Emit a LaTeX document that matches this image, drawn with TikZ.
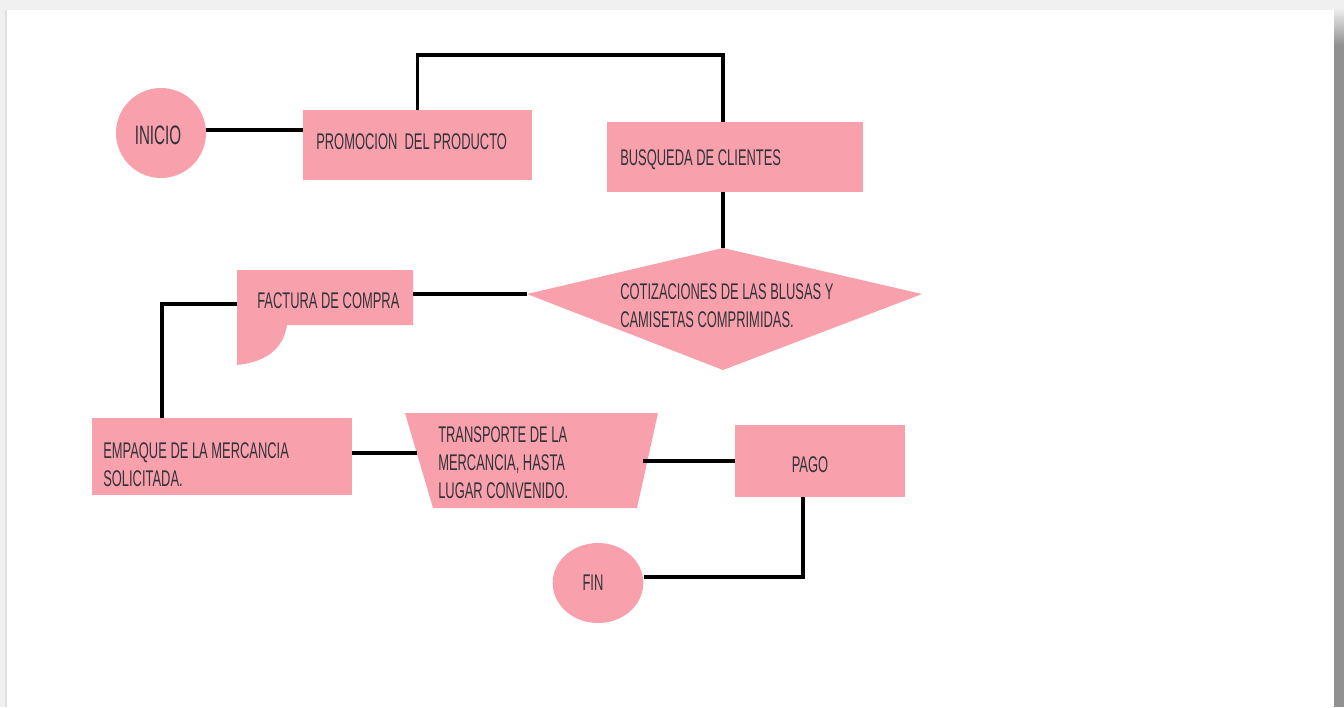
\documentclass[tikz,border=0pt]{standalone}
\usepackage{fontspec}
\setmainfont{Liberation Sans}[FakeStretch=0.57]
\usetikzlibrary{fit,shapes.geometric}
\definecolor{boxpink}{RGB}{248,161,173}
\definecolor{inkgray}{RGB}{50,50,56}
\definecolor{pagegray}{RGB}{240,240,240}
\definecolor{shadegray}{RGB}{145,145,145}
\begin{document}
\begin{tikzpicture}[x=0.75pt,y=-0.75pt,
  shapefill/.style={fill=boxpink,draw=none},
  boxnode/.style={shapefill,rectangle,inner sep=0pt},
  txt/.style={inner sep=0pt,text=inkgray,font=\fontsize{17}{21}\selectfont,align=left},
  bigtxt/.style={txt,font=\fontsize{20}{21}\selectfont},
  link/.style={draw=black,line width=2.4pt}]

% page frame
\useasboundingbox (0,0) rectangle (1344,707);
\fill[pagegray] (0,0) rectangle (1344,707);
\fill[white] (7,10) rectangle (1335,707);
\fill[black!12] (5,10) rectangle (7,707);
\shade[top color=pagegray,bottom color=shadegray] (1334,8) rectangle (1344,45);
\fill[shadegray] (1334,45) rectangle (1344,707);

% shapes
\node[shapefill,circle,minimum size=67.5pt,inner sep=0pt] (inicio) at (161,133) {};
\node[boxnode,fit={(303,110) (532,180)}] (promo) {};
\node[boxnode,fit={(607,122) (863,192)}] (busq) {};
\node[boxnode,fit={(92,418) (352,495)}] (empaque) {};
\node[boxnode,fit={(735,425) (905,497)}] (pago) {};
\node[shapefill,ellipse,minimum width=68pt,minimum height=60pt,inner sep=0pt] (fin) at (598,583) {};

% decision (kite)
\coordinate (cotT) at (723,248);
\coordinate (cotL) at (527,294);
\coordinate (cotR) at (922,294);
\coordinate (cotB) at (723,370);
\fill[boxpink] (cotT) -- (cotR) -- (cotB) -- (cotL) -- cycle;

% document shape
\coordinate (facR) at (413,294);
\coordinate (facL) at (237,304);
\fill[boxpink] (237,270) -- (413,270) -- (413,325) -- (287,325)
  .. controls (283,350) and (265,362) .. (237,365) -- cycle;

% transport trapezium
\coordinate (traL) at (417,453);
\coordinate (traR) at (643,461);
\fill[boxpink] (405,413) -- (658,413) -- (637,508) -- (433,508) -- cycle;

% texts
\node[bigtxt] (tinicio) at (158,135) {INICIO};
\node[txt,anchor=north west] (tpromo) at (316,133) {PROMOCION\ \ DEL PRODUCTO};
\node[txt,anchor=north west] (tbusq) at (620,149) {BUSQUEDA DE CLIENTES};
\node[txt,anchor=north west] (tcot) at (620,283) {COTIZACIONES DE LAS BLUSAS Y\\CAMISETAS COMPRIMIDAS.};
\node[txt,anchor=north west] (tfac) at (257,292) {FACTURA DE COMPRA};
\node[txt,anchor=north west] (temp) at (103,442) {EMPAQUE DE LA MERCANCIA\\SOLICITADA.};
\node[txt,anchor=north west] (ttra) at (438,426) {TRANSPORTE DE LA\\MERCANCIA, HASTA\\LUGAR CONVENIDO.};
\node[txt] (tpago) at (810,465) {PAGO};
\node[txt] (tfin) at (593,583) {FIN};

% connectors
\coordinate (loopR) at (723,55);
\coordinate (facTurn) at (162,304);
\coordinate (pagoDown) at (803,577);
\draw[link] (inicio.east |- 0,130) -- (promo.west |- 0,130);
\draw[link] (promo.north) |- (loopR) -- (loopR |- busq.north);
\draw[link] (loopR |- busq.south) -- (cotT);
\draw[link] (cotL) -- (facR);
\draw[link] (facL) -- (facTurn) -- (facTurn |- empaque.north);
\draw[link] (empaque.east |- traL) -- (traL);
\draw[link] (traR) -- (pago.west |- traR);
\draw[link] (pagoDown |- pago.south) -- (pagoDown) -- (fin.east |- pagoDown);
\end{tikzpicture}
\end{document}
